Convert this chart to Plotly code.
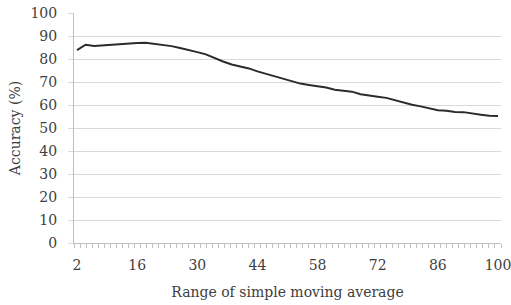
import plotly.graph_objects as go

# Data
window_range = [2, 4, 6, 8, 10, 12, 14, 16, 18, 20, 22, 24, 26, 28, 30, 32, 34, 36, 38, 40,
                42, 44, 46, 48, 50, 52, 54, 56, 58, 60, 62, 64, 66, 68, 70, 72, 74, 76, 78, 80,
                82, 84, 86, 88, 90, 92, 94, 96, 98, 100]
accuracy = [83.9, 86.2, 85.7, 86.0, 86.3, 86.6, 86.8, 87.0, 87.1, 86.6, 86.2, 85.6, 84.8, 84.0,
            83.0, 82.0, 80.3, 78.9, 77.6, 76.7, 75.9, 74.6, 73.5, 72.4, 71.2, 70.3, 69.3, 68.7,
            68.3, 67.6, 66.6, 66.2, 65.8, 64.7, 64.0, 63.6, 63.1, 62.0, 60.9, 60.1, 59.4, 58.4,
            57.7, 57.5, 57.0, 56.9, 56.2, 55.8, 55.3, 55.2]
x_tick_labels = [2, 16, 30, 44, 58, 72, 86, 100]
y_ticks = [0, 10, 20, 30, 40, 50, 60, 70, 80, 90, 100]

font_family = "DejaVu Serif"
txt_color = "#404040"
fs = 14

fig = go.Figure()
fig.add_trace(go.Scatter(
    x=window_range, y=accuracy, mode="lines",
    line=dict(color="#2b2b2b", width=2),
    showlegend=False, hoverinfo="skip",
))
# invisible trace so the label axis is drawn
fig.add_trace(go.Scatter(
    x=window_range, y=accuracy, mode="lines", xaxis="x2",
    line=dict(width=0), opacity=0, showlegend=False, hoverinfo="skip",
))

fig.update_layout(
    width=511, height=305,
    margin=dict(l=74, r=10, t=13, b=62),
    paper_bgcolor="white", plot_bgcolor="white",
    font=dict(family=font_family, size=fs, color=txt_color),
    xaxis=dict(
        range=[1.3, 100.7], automargin=False,
        tickmode="linear", tick0=1.3, dtick=1.4,
        ticks="outside", ticklen=4, tickcolor="#bfbfbf",
        showticklabels=False,
        showgrid=False, zeroline=False,
        showline=True, linecolor="#bfbfbf", linewidth=1,
    ),
    xaxis2=dict(
        overlaying="x", anchor="y", side="bottom", matches="x",
        range=[1.3, 100.7], automargin=False,
        tickmode="array", tickvals=x_tick_labels,
        ticktext=[str(v) for v in x_tick_labels],
        ticks="", showgrid=False, zeroline=False, showline=False,
        ticklabelstandoff=12, ticklabeloverflow="allow",
        title=dict(text="Range of simple moving average", standoff=15,
                   font=dict(family=font_family, size=fs, color=txt_color)),
        tickfont=dict(family=font_family, size=fs, color=txt_color),
    ),
    yaxis=dict(
        range=[0, 100], tickmode="array", tickvals=y_ticks, automargin=False,
        ticks="outside", ticklen=5, tickcolor="#d9d9d9",
        showgrid=True, gridcolor="#d9d9d9", gridwidth=1,
        zeroline=False, showline=True, linecolor="#bfbfbf", linewidth=1,
        ticklabelstandoff=8, ticklabeloverflow="allow",
        title=dict(text="Accuracy (%)", standoff=6,
                   font=dict(family=font_family, size=fs, color=txt_color)),
        tickfont=dict(family=font_family, size=fs, color=txt_color),
    ),
)

# remove the browser's default 8px body margin so the figure fills the window
fig.write_html("out.html", config={"displayModeBar": False},
               post_script="document.body.style.margin='0';")
